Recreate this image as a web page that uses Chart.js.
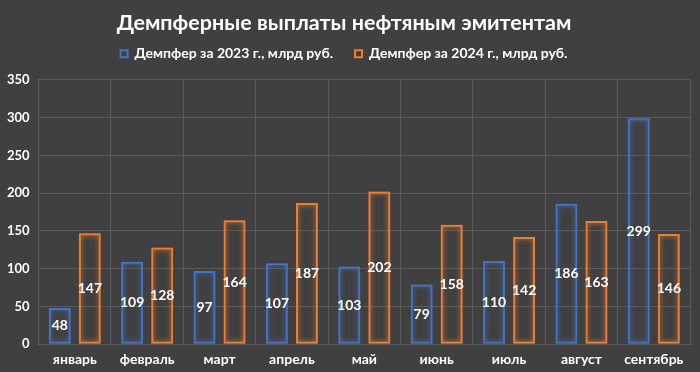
<!DOCTYPE html>
<html><head><meta charset="utf-8">
<script src="https://cdn.jsdelivr.net/npm/chart.js@4/dist/chart.umd.min.js"></script>
<style>html,body{margin:0;padding:0;background:#404040;}#wrap{width:700px;height:372px;}</style>
</head><body><div id="wrap"><canvas id="c" width="700" height="372"></canvas></div>
<script>
const categories = ['январь','февраль','март','апрель','май','июнь','июль','август','сентябрь'];
const values2023 = [48,109,97,107,103,79,110,186,299];
const values2024 = [147,128,164,187,202,158,142,163,146];
const seriesNames = ['Демпфер за 2023 г., млрд руб.','Демпфер за 2024 г., млрд руб.'];
const yTicks = {min:0,max:350,step:50};

const FONT = 'Lato, "DejaVu Sans", sans-serif';

const glowPlugin = {
  id:'glow',
  beforeDatasetDraw(chart,args){
    const ds = chart.data.datasets[args.index];
    chart.ctx.save();
    chart.ctx.shadowColor = ds.borderColor;
    chart.ctx.shadowBlur = 5;
  },
  afterDatasetDraw(chart){ chart.ctx.restore(); }
};
const labelPlugin = {
  id:'centerLabels',
  afterDatasetsDraw(chart){
    const ctx = chart.ctx;
    ctx.save();
    ctx.fillStyle = '#ffffff';
    ctx.font = 'bold 14px ' + FONT;
    ctx.textAlign = 'center';
    ctx.textBaseline = 'middle';
    chart.data.datasets.forEach((ds,i)=>{
      chart.getDatasetMeta(i).data.forEach((bar,j)=>{
        const y = (bar.y + bar.base)/2;
        ctx.fillText(String(ds.data[j]), bar.x, y);
      });
    });
    ctx.restore();
  }
};
const bgPlugin = {
  id:'bg',
  beforeDraw(chart){
    const ctx = chart.ctx; ctx.save(); ctx.fillStyle='#404040';
    ctx.fillRect(0,0,chart.width,chart.height); ctx.restore();
  }
};
const legendSpace = {
  id:'legendSpace',
  beforeLayout(chart){
    const lg = chart.legend;
    if (lg && !lg._patched){
      const orig = lg.fit.bind(lg);
      lg.fit = function(){ orig(); this.height += 9; };
      lg._patched = true;
    }
  }
};

new Chart(document.getElementById('c'),{
  type:'bar',
  data:{
    labels:categories,
    datasets:[
      {label:seriesNames[0],data:values2023,borderColor:'#4472C4',backgroundColor:'rgba(0,0,0,0)',borderWidth:2,borderSkipped:false,categoryPercentage:0.83,barPercentage:0.73},
      {label:seriesNames[1],data:values2024,borderColor:'#ED7D31',backgroundColor:'rgba(0,0,0,0)',borderWidth:2,borderSkipped:false,categoryPercentage:0.83,barPercentage:0.73}
    ]
  },
  options:{
    responsive:false,animation:false,
    layout:{padding:{left:-2,right:10,top:6,bottom:-3}},
    plugins:{
      title:{display:true,text:'Демпферные выплаты нефтяным эмитентам',color:'#ffffff',font:{family:FONT,size:21.5,weight:'bold'},padding:{top:4,bottom:-11}},
      legend:{position:'top',labels:{color:'#ffffff',font:{family:FONT,size:14,weight:'bold'},boxWidth:7,boxHeight:7,padding:22}},
      tooltip:{enabled:false}
    },
    scales:{
      x:{grid:{color:'#5a5a5a',drawTicks:false},border:{color:'#5a5a5a'},ticks:{color:'#ffffff',font:{family:FONT,size:14,weight:'bold'},padding:7}},
      y:{min:yTicks.min,max:yTicks.max,ticks:{stepSize:yTicks.step,color:'#ffffff',font:{family:FONT,size:13,weight:'bold'},padding:9},grid:{color:'#5a5a5a',drawTicks:false},border:{color:'#5a5a5a'}}
    }
  },
  plugins:[bgPlugin,legendSpace,glowPlugin,labelPlugin]
});
</script></body></html>
